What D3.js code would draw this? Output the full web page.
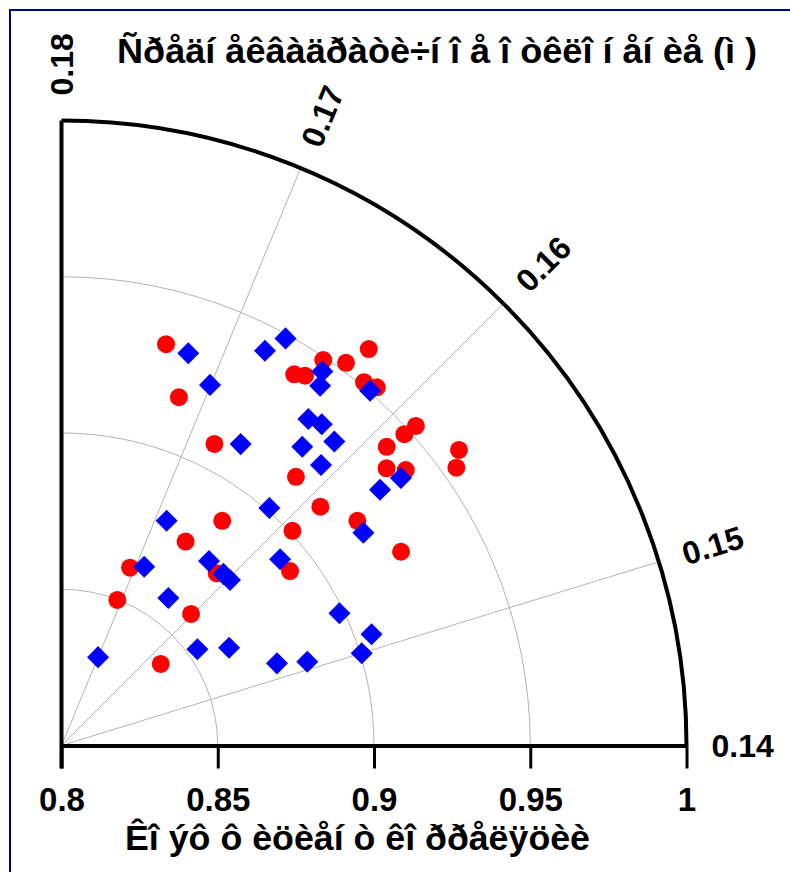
<!DOCTYPE html>
<html><head><meta charset="utf-8">
<script src="https://cdn.jsdelivr.net/npm/d3@7/dist/d3.min.js"></script>
<style>body{margin:0;background:#fff}svg{display:block}text{font-family:"Liberation Sans",Arial,sans-serif;font-weight:bold}</style>
</head><body>
<svg id="chart" width="790" height="872"></svg>
<script>
// ---- data ----
const radialTicks = [0.8, 0.85, 0.9, 0.95, 1];
const radialTickLabels = ["0.8", "0.85", "0.9", "0.95", "1"];
const angularTicks = [0.14, 0.15, 0.16, 0.17, 0.18];
const angularTickLabels = ["0.14", "0.15", "0.16", "0.17", "0.18"];
const titleTop = "Ñðåäí åêâàäðàòè÷í î å î òêëî í åí èå (ì )";
const titleBottom = "Êî ýô ô èöèåí ò êî ððåëÿöèè";

// red circles: radial value (correlation) and angular value (RMSE)
const redR = [0.9327,0.9176,0.9082,0.9402,0.9417,0.9491,0.9526,0.9605,0.9513,0.9527,
              0.9141,0.9413,0.9482,0.9527,0.9585,0.9545,0.9367,0.9411,0.9127,0.8884,
              0.8764,0.9009,0.9189,0.9251,0.8610,0.8742,0.8920,0.8499,0.8591,0.8411];
const redA = [0.17351,0.17172,0.16805,0.16574,0.16517,0.16481,0.16372,0.16321,0.16232,0.16162,
              0.16173,0.15913,0.15901,0.15894,0.15700,0.15646,0.15837,0.15773,0.15917,0.16419,
              0.16608,0.15925,0.15721,0.15452,0.17063,0.16132,0.15726,0.17068,0.16020,0.15800];
// blue diamonds
const blueR = [0.9319,0.9248,0.9122,0.9421,0.9487,0.9459,0.9418,0.9505,0.9310,0.9323,
               0.9307,0.9228,0.9223,0.9383,0.9307,0.9182,0.9010,0.8794,0.8630,0.8756,
               0.8755,0.8756,0.8919,0.8583,0.8306,0.8533,0.8621,0.8738,0.8831,0.8985,
               0.9054,0.9005];
const blueA = [0.17204,0.17005,0.16634,0.16788,0.16719,0.16449,0.16413,0.16177,0.16352,0.16266,
               0.16137,0.16273,0.16099,0.15758,0.15776,0.15648,0.16169,0.16886,0.16896,0.16283,
               0.16074,0.15982,0.15836,0.16404,0.17001,0.15653,0.15472,0.15135,0.15062,0.15299,
               0.15094,0.14998];

// ---- layout ----
const svg = d3.select("#chart");
const ox = 61.5, oy = 745.5, R = 625;
const rScale = d3.scaleLinear().domain([0.8, 1]).range([0, R]);
const aScale = d3.scaleLinear().domain(angularTicks).range([0, 17.1, 45, 67.5, 90]);
const xAxisScale = d3.scaleLinear().domain([0.8, 1]).range([ox, ox + R]);
function pos(r, a) {
  const phi = aScale(a) * Math.PI / 180, d = rScale(r);
  return [ox + d * Math.cos(phi), oy - d * Math.sin(phi)];
}

// frame lines (top & left)
svg.append("line").attr("x1", 9).attr("y1", 10).attr("x2", 790).attr("y2", 10)
  .attr("stroke", "#00008b").attr("stroke-width", 2);
svg.append("line").attr("x1", 10).attr("y1", 9).attr("x2", 10).attr("y2", 872)
  .attr("stroke", "#00008b").attr("stroke-width", 2);

const g = svg.append("g");
// grid arcs
radialTicks.slice(1, -1).forEach(v => {
  const p = d3.path(); p.arc(ox, oy, rScale(v), -Math.PI / 2, 0);
  g.append("path").attr("d", p.toString()).attr("fill", "none").attr("stroke", "#b4b4b4").attr("stroke-width", 1);
});
// grid radial lines
angularTicks.slice(1, -1).forEach(v => {
  const e = pos(1, v);
  g.append("line").attr("x1", ox).attr("y1", oy).attr("x2", e[0]).attr("y2", e[1])
    .attr("stroke", "#b4b4b4").attr("stroke-width", 1);
});
// outer arc
{
  const p = d3.path(); p.arc(ox, oy, R, -Math.PI / 2, 0);
  g.append("path").attr("d", p.toString()).attr("fill", "none").attr("stroke", "#000").attr("stroke-width", 4);
}
// left axis
g.append("line").attr("x1", ox).attr("y1", oy - R).attr("x2", ox).attr("y2", oy + 23)
  .attr("stroke", "#000").attr("stroke-width", 4);

// bottom axis
const xAxis = d3.axisBottom(xAxisScale).tickValues(radialTicks)
  .tickFormat((d, i) => radialTickLabels[i]).tickSize(23).tickSizeOuter(0).tickPadding(19);
const ax = g.append("g").attr("transform", `translate(0,${oy})`).call(xAxis);
ax.select(".domain").attr("stroke", "#000").attr("stroke-width", 4);
ax.selectAll(".tick line").attr("stroke", "#000").attr("stroke-width", 3);
ax.selectAll(".tick text").attr("fill", "#000").attr("font-size", 33)
  .attr("font-family", "Liberation Sans, Arial, sans-serif").attr("font-weight", "bold")
  .attr("transform", function () { return "scale(0.92,1)"; })
  .attr("x", function () { return 0; });
// keep labels centred under ticks after horizontal squeeze
ax.selectAll(".tick text").attr("transform", null);

// angular tick labels
angularTicks.forEach((v, i) => {
  const ang = aScale(v);
  const p = pos(0.8 + 650 / R * 0.2, v);
  g.append("text").attr("x", p[0]).attr("y", p[1]).attr("dy", "0.36em")
    .attr("transform", `rotate(${-ang},${p[0]},${p[1]})`)
    .attr("text-anchor", "start").attr("font-size", 32).attr("fill", "#000")
    .text(angularTickLabels[i]);
});

// points
const reds = redR.map((r, i) => pos(r, redA[i]));
g.selectAll("circle.red").data(reds).join("circle").attr("class", "red")
  .attr("cx", d => d[0]).attr("cy", d => d[1]).attr("r", 9).attr("fill", "#ff0000");
const diamond = d3.symbol(d3.symbolSquare, 243);
const blues = blueR.map((r, i) => pos(r, blueA[i]));
g.selectAll("path.blue").data(blues).join("path").attr("class", "blue")
  .attr("d", diamond).attr("transform", d => `translate(${d[0]},${d[1]}) rotate(45)`).attr("fill", "#0000ff");

// titles
svg.append("text").attr("x", 117).attr("y", 63).attr("font-size", 35).attr("fill", "#000")
  .attr("textLength", 640).attr("lengthAdjust", "spacingAndGlyphs").text(titleTop);
svg.append("text").attr("x", 125).attr("y", 850).attr("font-size", 35).attr("fill", "#000")
  .attr("textLength", 465).attr("lengthAdjust", "spacingAndGlyphs").text(titleBottom);
</script>
</body></html>
